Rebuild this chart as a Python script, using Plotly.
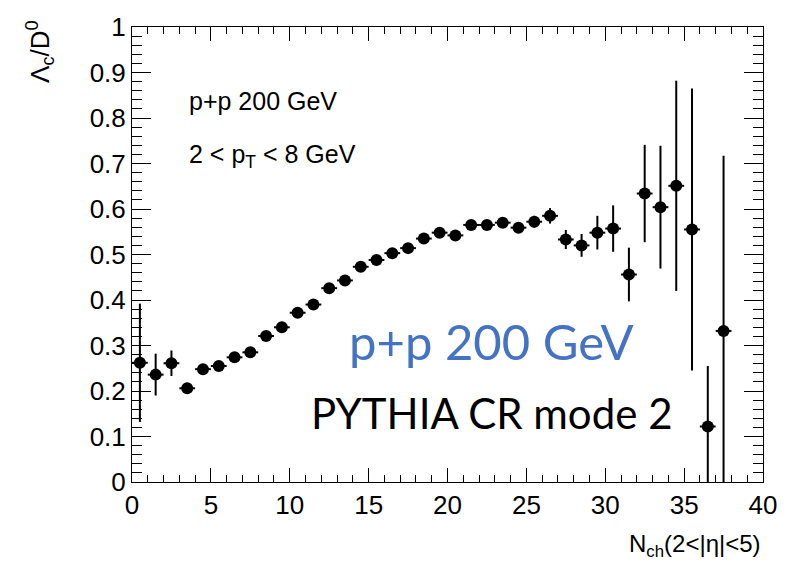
import plotly.graph_objects as go

# Lambda_c / D0 ratio vs forward charged multiplicity (bin centres, 1-unit bins)
nch = [0.5, 1.5, 2.5, 3.5, 4.5, 5.5, 6.5, 7.5, 8.5, 9.5,
       10.5, 11.5, 12.5, 13.5, 14.5, 15.5, 16.5, 17.5, 18.5, 19.5,
       20.5, 21.5, 22.5, 23.5, 24.5, 25.5, 26.5, 27.5, 28.5, 29.5,
       30.5, 31.5, 32.5, 33.5, 34.5, 35.5, 36.5, 37.5]
ratio = [0.262, 0.236, 0.261, 0.206, 0.248, 0.255, 0.274, 0.285, 0.321, 0.340,
         0.372, 0.390, 0.426, 0.443, 0.473, 0.488, 0.503, 0.514, 0.535, 0.548,
         0.542, 0.565, 0.565, 0.570, 0.559, 0.572, 0.585, 0.533, 0.520, 0.548,
         0.557, 0.456, 0.634, 0.604, 0.651, 0.555, 0.122, 0.332]
ratio_err = [0.130, 0.046, 0.028, 0.010, 0.007, 0.007, 0.007, 0.007, 0.008, 0.008,
             0.008, 0.008, 0.008, 0.008, 0.009, 0.009, 0.009, 0.009, 0.009, 0.010,
             0.010, 0.010, 0.011, 0.011, 0.012, 0.013, 0.017, 0.021, 0.025, 0.037,
             0.051, 0.059, 0.107, 0.135, 0.231, 0.310, 0.133, 0.385]
bin_half_width = 0.5

x_ticks = [0, 5, 10, 15, 20, 25, 30, 35, 40]
y_ticks = [0, 0.1, 0.2, 0.3, 0.4, 0.5, 0.6, 0.7, 0.8, 0.9, 1]
y_tick_text = ["0", "0.1", "0.2", "0.3", "0.4", "0.5", "0.6", "0.7", "0.8", "0.9", "1"]

ROOT_FONT = "Liberation Sans, Arial, sans-serif"
SLIDE_FONT = "Lato, Open Sans, sans-serif"

fig = go.Figure()
fig.add_trace(go.Scatter(
    x=nch, y=ratio, mode="markers",
    marker=dict(symbol="circle", size=12, color="black"),
    error_y=dict(type="data", array=ratio_err, color="black", thickness=2, width=0),
    error_x=dict(type="constant", value=bin_half_width, color="black", thickness=2, width=0),
    showlegend=False,
))

axis_common = dict(
    showgrid=False, zeroline=False, showline=True, linecolor="black", linewidth=1,
    mirror="ticks", ticks="inside", tickcolor="black", tickwidth=1,
    tickfont=dict(family=ROOT_FONT, size=26, color="black"),
)

fig.update_xaxes(
    range=[0, 40], tickvals=x_ticks, ticklen=14,
    minor=dict(ticks="inside", dtick=1, ticklen=7, tickcolor="black", showgrid=False),
    **axis_common,
)
fig.update_yaxes(
    range=[0, 1], tickvals=y_ticks, ticktext=y_tick_text, ticklen=19,
    minor=dict(ticks="inside", dtick=0.02, ticklen=10, tickcolor="black", showgrid=False),
    **axis_common,
)

annotations = [
    dict(text="p+p 200 GeV", x=3.5, y=0.838, xref="x", yref="y",
         xanchor="left", yanchor="middle", showarrow=False,
         font=dict(family=ROOT_FONT, size=25, color="black")),
    dict(text="2 &lt; p<sub>T</sub> &lt; 8 GeV", x=3.5, y=0.716, xref="x", yref="y",
         xanchor="left", yanchor="middle", showarrow=False,
         font=dict(family=ROOT_FONT, size=25, color="black")),
    dict(text="p+p 200 GeV", x=13.6, y=0.31, xref="x", yref="y",
         xanchor="left", yanchor="middle", showarrow=False,
         font=dict(family=SLIDE_FONT, size=49, color="#4472C4")),
    dict(text="PYTHIA CR mode 2", x=11.25, y=0.152, xref="x", yref="y",
         xanchor="left", yanchor="middle", showarrow=False,
         font=dict(family=SLIDE_FONT, size=42, color="black")),
    dict(text="Λ<sub>c</sub>/D<sup>0</sup>", x=-0.145, y=1.02, xref="paper", yref="paper",
         xanchor="center", yanchor="top", textangle=-90, showarrow=False,
         font=dict(family=ROOT_FONT, size=26, color="black")),
    dict(text="N<sub>ch</sub>(2&lt;|η|&lt;5)", x=1.0, y=-0.14, xref="paper", yref="paper",
         xanchor="right", yanchor="middle", showarrow=False,
         font=dict(family=ROOT_FONT, size=24, color="black")),
]

fig.update_layout(
    width=789, height=566,
    margin=dict(l=132, r=17, t=15, b=84),
    paper_bgcolor="white", plot_bgcolor="white",
    annotations=annotations,
)

fig.write_html("out.html")
